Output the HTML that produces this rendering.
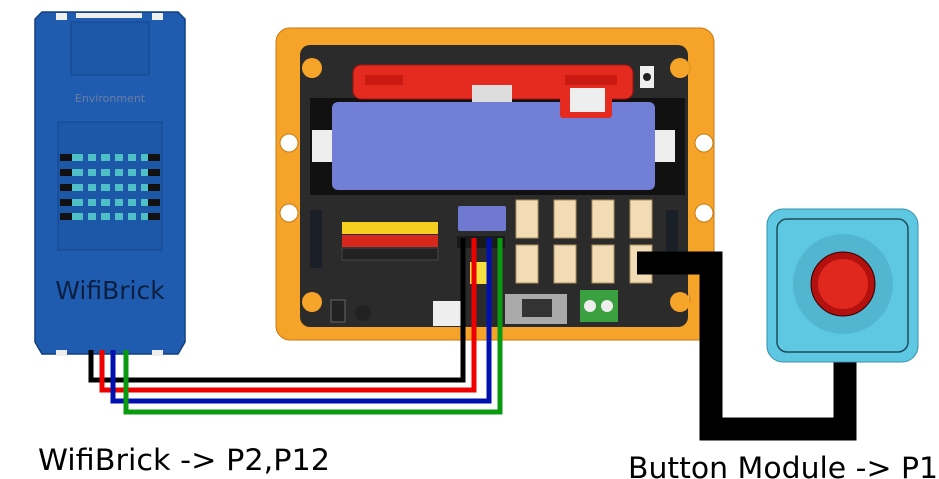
<!DOCTYPE html>
<html><head><style>body{margin:0;background:#fff}svg{display:block}</style></head><body>
<svg width="939" height="479" viewBox="0 0 939 479" xmlns="http://www.w3.org/2000/svg" font-family="DejaVu Sans, Liberation Sans, sans-serif">
<!-- WifiBrick -->
<path d="M42 12 H178 L185 19 V342 L178 354 H42 L35 342 V19 Z" fill="#1f5cb0" stroke="#123f80" stroke-width="1.5"/>
<rect x="56" y="13" width="11" height="7" fill="#eee"/><rect x="152" y="13" width="11" height="7" fill="#eee"/>
<rect x="76" y="13" width="66" height="5" fill="#eee"/>
<rect x="71" y="22" width="78" height="53" fill="#1d57a8" stroke="#14468c"/>
<text x="110" y="102" font-size="11" fill="#6b7fa0" text-anchor="middle">Environment</text>
<rect x="58" y="122" width="104" height="128" fill="#1d57a8" stroke="#14468c"/>
<g fill="#4fc0c8">
<rect x="72" y="154" width="76" height="7"/><rect x="72" y="169" width="76" height="7"/><rect x="72" y="184" width="76" height="7"/><rect x="72" y="199" width="76" height="7"/><rect x="72" y="213" width="76" height="7"/>
</g>
<g fill="#111"><rect x="60" y="154" width="12" height="7"/><rect x="60" y="169" width="12" height="7"/><rect x="60" y="184" width="12" height="7"/><rect x="60" y="199" width="12" height="7"/><rect x="60" y="213" width="12" height="7"/><rect x="148" y="154" width="12" height="7"/><rect x="148" y="169" width="12" height="7"/><rect x="148" y="184" width="12" height="7"/><rect x="148" y="199" width="12" height="7"/><rect x="148" y="213" width="12" height="7"/></g>
<g fill="#1d57a8"><rect x="83" y="150" width="5" height="75"/><rect x="96" y="150" width="5" height="75"/><rect x="110" y="150" width="5" height="75"/><rect x="123" y="150" width="5" height="75"/><rect x="136" y="150" width="5" height="75"/></g>
<text x="110" y="299" font-size="25" fill="#0d1f40" text-anchor="middle">WifiBrick</text>
<rect x="56" y="350" width="11" height="6" fill="#eee"/><rect x="152" y="350" width="11" height="6" fill="#eee"/>
<!-- board frame -->
<rect x="276" y="28" width="438" height="312" rx="14" fill="#f6a32a" stroke="#c87a10"/>
<g fill="#fff" stroke="#c87a10"><circle cx="312" cy="68" r="10"/><circle cx="680" cy="68" r="10"/><circle cx="312" cy="300" r="10"/><circle cx="680" cy="300" r="10"/><circle cx="289" cy="143" r="9"/><circle cx="289" cy="213" r="9"/><circle cx="704" cy="143" r="9"/><circle cx="704" cy="213" r="9"/></g>
<rect x="300" y="45" width="388" height="282" rx="10" fill="#2b2b2b"/>
<g fill="#f6a32a"><circle cx="312" cy="68" r="10"/><circle cx="680" cy="68" r="10"/><circle cx="312" cy="302" r="10"/><circle cx="680" cy="302" r="10"/></g>
<rect x="310" y="98" width="375" height="97" fill="#111"/>
<rect x="312" y="130" width="22" height="32" fill="#eee"/><rect x="655" y="130" width="20" height="32" fill="#eee"/>
<rect x="332" y="102" width="323" height="88" rx="6" fill="#727fd6"/>
<rect x="353" y="65" width="280" height="34" rx="8" fill="#e52b1f" stroke="#a01010"/>
<rect x="365" y="75" width="38" height="10" fill="#c81a10"/><rect x="565" y="75" width="52" height="10" fill="#c81a10"/>
<rect x="472" y="85" width="40" height="17" fill="#ddd"/>
<rect x="560" y="88" width="52" height="30" rx="3" fill="#e52b1f"/><rect x="570" y="88" width="35" height="24" fill="#eee"/>
<rect x="640" y="66" width="14" height="22" fill="#eee"/><circle cx="647" cy="77" r="4" fill="#222"/>
<!-- headers -->
<g><rect x="342" y="222" width="96" height="12" fill="#f5d020"/><rect x="342" y="235" width="96" height="12" fill="#d8281e"/><rect x="342" y="248" width="96" height="12" fill="#222" stroke="#444"/></g>
<rect x="458" y="206" width="48" height="25" rx="2" fill="#7079d2"/>
<rect x="457" y="236" width="48" height="12" fill="#1a1a1a"/>
<rect x="470" y="262" width="18" height="22" fill="#f5e040"/>
<g fill="#f2dcb6" stroke="#b09060"><rect x="516" y="200" width="22" height="38"/><rect x="554" y="200" width="22" height="38"/><rect x="592" y="200" width="22" height="38"/><rect x="630" y="200" width="22" height="38"/><rect x="516" y="245" width="22" height="38"/><rect x="554" y="245" width="22" height="38"/><rect x="592" y="245" width="22" height="38"/><rect x="630" y="245" width="22" height="38"/></g>
<rect x="310" y="210" width="12" height="58" fill="#1a1f28"/><rect x="666" y="210" width="12" height="58" fill="#1a1f28"/>
<rect x="505" y="294" width="62" height="30" fill="#aaa"/><rect x="522" y="299" width="30" height="18" fill="#333"/>
<rect x="580" y="290" width="38" height="32" fill="#3aa040"/><circle cx="590" cy="306" r="6" fill="#eee"/><circle cx="607" cy="306" r="6" fill="#eee"/>
<rect x="433" y="301" width="32" height="25" fill="#eee"/>
<rect x="331" y="300" width="14" height="22" fill="#222" stroke="#666"/><circle cx="363" cy="313" r="8" fill="#222"/>
<!-- wires -->
<g fill="none" stroke-width="5">
<path d="M91 350 V380 H463 V238" stroke="#000"/>
<path d="M102 350 V390 H474 V238" stroke="#e00"/>
<path d="M113 350 V401 H489 V238" stroke="#0010b0"/>
<path d="M126 350 V412 H500 V238" stroke="#0a9a10"/>
</g>
<!-- button cable -->
<path d="M637 263 H711 V429 H845 V360" fill="none" stroke="#000" stroke-width="23"/>
<!-- button module -->
<rect x="767" y="209" width="151" height="153" rx="16" fill="#5ec8e2" stroke="#3a8ea8"/>
<rect x="777" y="219" width="131" height="133" rx="10" fill="none" stroke="#1e4c5a" stroke-width="1.5"/>
<circle cx="843" cy="284" r="50" fill="#52b6d0"/>
<circle cx="843" cy="284" r="32" fill="#b31010" stroke="#300" />
<circle cx="843" cy="284" r="25" fill="#e0281e"/>
<!-- labels -->
<text x="38" y="470" font-size="29" fill="#000" textLength="292" lengthAdjust="spacingAndGlyphs">WifiBrick -&gt; P2,P12</text>
<text x="628" y="478" font-size="29" fill="#000" textLength="310" lengthAdjust="spacingAndGlyphs">Button Module -&gt; P1</text>
</svg>
</body></html>
